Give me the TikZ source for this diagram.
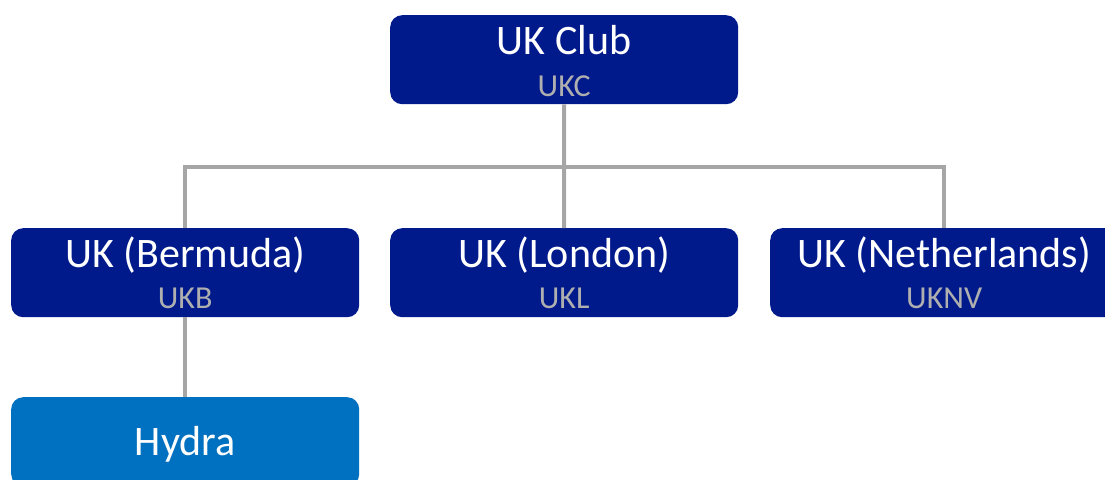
\documentclass[tikz,border=0pt]{standalone}
\usepackage{fontspec}
\setmainfont{Carlito}
\definecolor{navy}{RGB}{0,26,140}
\definecolor{hydrablue}{RGB}{0,112,192}
\definecolor{linegray}{RGB}{166,166,166}
\definecolor{subgray}{RGB}{175,175,175}
\begin{document}
\begin{tikzpicture}[x=1pt,y=1pt,
  box/.style={fill=navy, draw=none, rounded corners=12pt, minimum width=348pt, minimum height=89pt, anchor=north west, inner sep=0pt},
  hbox/.style={box, fill=hydrablue},
  title/.style={text=white, font=\fontsize{42}{46}\selectfont, anchor=base, inner sep=0pt},
  sub/.style={text=subgray, font=\fontsize{32}{36}\selectfont, anchor=base, inner sep=0pt},
  conn/.style={draw=linegray, line width=4pt}]
\useasboundingbox (0,0) rectangle (1105,-479);
\clip (0,0) rectangle (1105,-479);
% boxes
\node[box] (ukc) at (390,-15) {};
\node[box] (ukb) at (11,-228) {};
\node[box] (ukl) at (390,-228) {};
\node[box] (uknv) at (770,-228) {};
\node[hbox] (hydra) at (11,-397) {};
% connectors
\coordinate (j) at (564,-167);
\draw[conn] (ukc.south) -- (j);
\draw[conn] (ukb.north) |- (j) -| (uknv.north);
\draw[conn] (ukl.north) -- (j);
\draw[conn] (ukb.south) -- (hydra.north);
% texts
\node[title] (ukcT) at ([yshift=-39pt]ukc.north) {UK Club};
\node[sub] (ukcS) at ([yshift=-81pt]ukc.north) {UKC};
\node[title] (ukbT) at ([yshift=-39pt]ukb.north) {UK (Bermuda)};
\node[sub] (ukbS) at ([yshift=-80pt]ukb.north) {UKB};
\node[title] (uklT) at ([yshift=-39pt]ukl.north) {UK (London)};
\node[sub] (uklS) at ([yshift=-80pt]ukl.north) {UKL};
\node[title] (uknvT) at ([yshift=-39pt]uknv.north) {UK (Netherlands)};
\node[sub] (uknvS) at ([yshift=-80pt]uknv.north) {UKNV};
\node[title] (hydraT) at ([yshift=-58pt]hydra.north) {Hydra};
\end{tikzpicture}
\end{document}
